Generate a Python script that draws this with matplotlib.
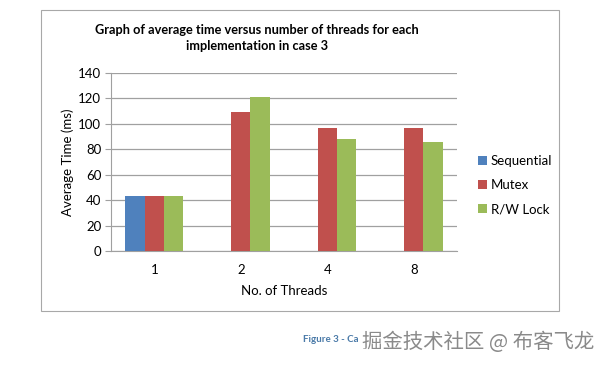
import numpy as np
import matplotlib.pyplot as plt
from matplotlib.patches import Rectangle

threads = ["1", "2", "4", "8"]
sequential = [43.3, 0, 0, 0]
mutex = [43, 109.5, 97, 97]
rw_lock = [43, 121, 88, 86]
series_names = ["Sequential", "Mutex", "R/W Lock"]
colors = ["#4F81BD", "#C0504D", "#9BBB59"]
y_ticks = [0, 20, 40, 60, 80, 100, 120, 140]

plt.rcParams['font.family'] = ['Lato', 'DejaVu Sans']

fig = plt.figure(figsize=(6.06, 3.65), dpi=100)
ax = fig.add_axes([111 / 606, 1 - 251 / 365, 346 / 606, 178 / 365])

x = np.arange(len(threads))
w = 0.223
for i, (vals, name, c) in enumerate(zip([sequential, mutex, rw_lock], series_names, colors)):
    ax.bar(x + (i - 1) * w, vals, width=w, color=c, label=name, zorder=3)

ax.set_xlim(-0.5, 3.5)
ax.set_ylim(0, 140)
ax.set_yticks(y_ticks)
ax.set_xticks(x)
ax.set_xticklabels(threads)
ax.yaxis.grid(True, color="#a0a0a0", linewidth=0.9, zorder=0)
ax.set_axisbelow(True)
for s in ["top", "right"]:
    ax.spines[s].set_visible(False)
ax.spines["left"].set_color("#a0a0a0")
ax.spines["bottom"].set_color("#a0a0a0")
ax.tick_params(axis="y", length=4, color="#a0a0a0", labelsize=9.5, pad=3)
ax.tick_params(axis="x", length=0, labelsize=9.5, pad=9)
ax.set_ylabel("Average Time (ms)", fontsize=9.5, labelpad=3)
ax.set_xlabel("No. of Threads", fontsize=9.5, labelpad=7)

fig.text(257 / 606, 1 - 38 / 365,
         "Graph of average time versus number of threads for each\nimplementation in case 3",
         ha="center", va="center", fontsize=9.2, fontweight="bold", linespacing=1.45)

leg = ax.legend(loc="center left", bbox_to_anchor=(1.025, 0.37), frameon=False,
                fontsize=9.5, handlelength=0.7, handleheight=0.7, handletextpad=0.3,
                labelspacing=0.9)

fig.patches.append(Rectangle((41 / 606, 1 - 311 / 365), 518 / 606, 301 / 365,
                             transform=fig.transFigure, fill=False,
                             edgecolor="#a8a8a8", linewidth=0.8))

fig.text(303 / 606, 1 - 340 / 365, "Figure 3 - Ca", fontsize=7,
         fontweight="bold", color="#4a7aa8", va="center")
fig.text(362 / 606, 1 - 342 / 365, "掘金技术社区 @ 布客飞龙", fontsize=14.7,
         color="#8a8a8a", va="center", family=["Noto Sans CJK SC", "DejaVu Sans"])

fig.savefig("out.png", dpi=100)
